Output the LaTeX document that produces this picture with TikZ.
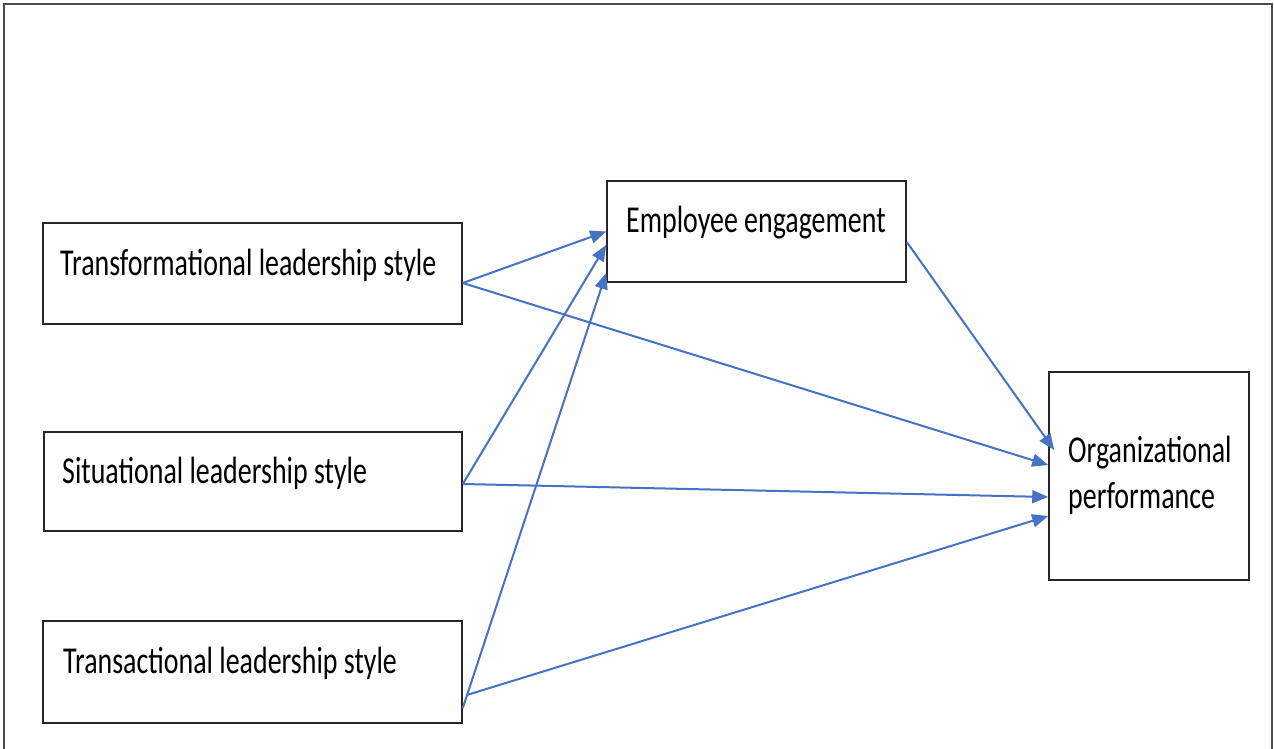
\documentclass[tikz,border=0pt]{standalone}
\usepackage{fontspec}
\setmainfont{Carlito}[FakeStretch=0.735]
\usetikzlibrary{arrows.meta}
\definecolor{arrowblue}{RGB}{68,114,196}
\begin{document}
\begin{tikzpicture}[x=1pt, y=-1pt,
		box/.style={draw=black!85, line width=1.6pt, inner sep=0pt},
		lbl/.style={inner sep=0pt, font=\fontsize{38}{46}\selectfont, align=left},
		link/.style={draw=arrowblue, line width=2pt, -{Triangle[length=16pt,width=13pt]}}]
		\useasboundingbox (0,0) rectangle (1274,749);
		
		% Frame
		\draw[gray!60!black, line width=1.4pt] (4,749) -- (4,4) -- (1272,4) -- (1272,749);
		
		% Boxes
		\node[box, minimum width=419pt, minimum height=101pt] (trf) at (252.5,273.5) {};
		\node[box, minimum width=418pt, minimum height=99pt] (sit) at (253,481.5) {};
		\node[box, minimum width=419pt, minimum height=102pt] (trc) at (252.5,672) {};
		\node[box, minimum width=299pt, minimum height=101pt] (emp) at (756.5,231.5) {};
		\node[box, minimum width=200pt, minimum height=208pt] (org) at (1149,476) {};
		
		% Labels
		\node[lbl, anchor=base west] (trf-t) at (60,275) {Transformational leadership style};
		\node[lbl, anchor=base west] (sit-t) at (62,483) {Situational leadership style};
		\node[lbl, anchor=base west] (trc-t) at (63,673) {Transactional leadership style};
		\node[lbl, anchor=base west] (emp-t) at (626,232) {Employee engagement};
		\node[lbl, anchor=base west] (org-t) at (1068,508) {Organizational\\performance};
		
		% Arrows
		\draw[link] ([yshift=-9.5pt]trf.east) -- ([yshift=0pt]emp.west);
		\draw[link] ([yshift=-9.5pt]trf.east) -- ([yshift=11pt]org.west);
		\draw[link] ([yshift=-2.5pt]sit.east) -- ([yshift=-13.5pt]emp.west);
		\draw[link] ([yshift=-2.5pt]sit.east) -- ([yshift=-21pt]org.west);
		\draw[link] ([yshift=-36pt]trc.east) -- ([yshift=-41.5pt]emp.west);
		\draw[link] ([xshift=4pt,yshift=-23pt]trc.east) -- ([yshift=-40pt]org.west);
		\draw[link] ([yshift=-10.5pt]emp.east) -- ([xshift=6pt,yshift=26pt]org.west);
	\end{tikzpicture}
\end{document}
